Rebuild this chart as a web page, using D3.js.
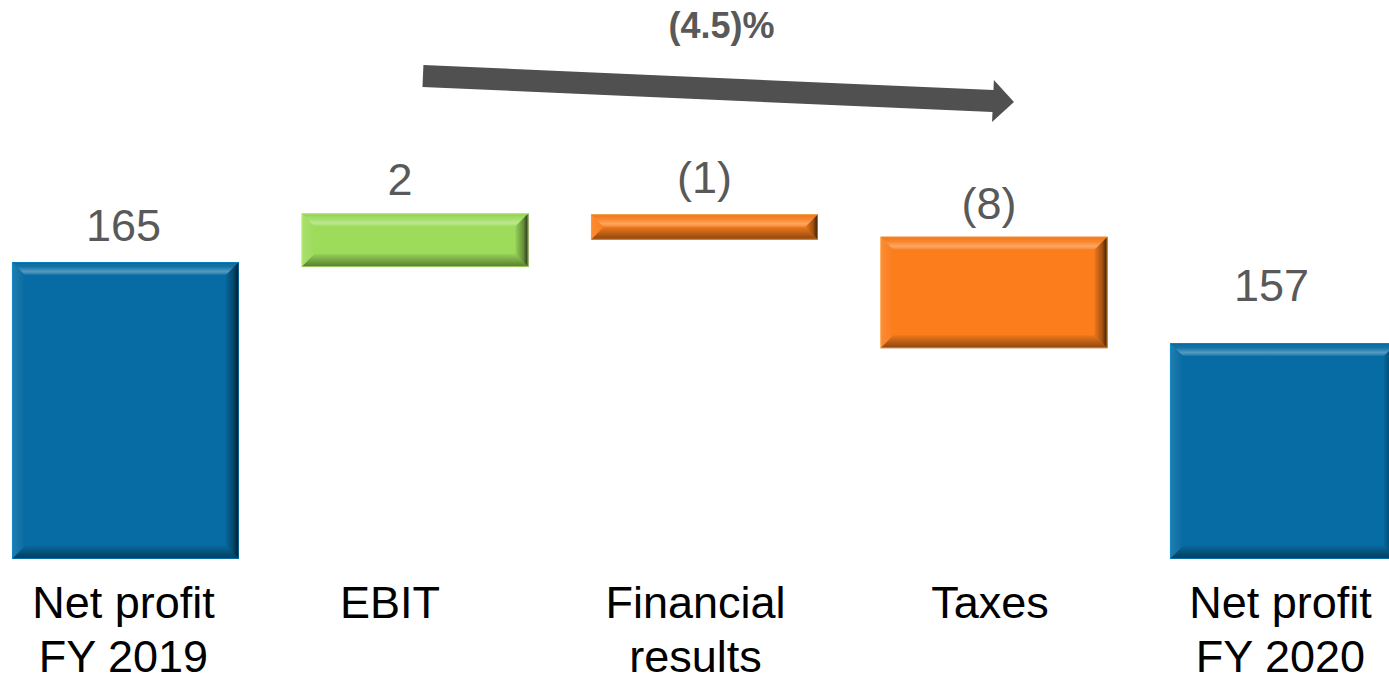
<!DOCTYPE html>
<html>
<head>
<meta charset="utf-8">
<script src="https://cdn.jsdelivr.net/npm/d3@7"></script>
<style>
  html, body { margin: 0; padding: 0; background: #ffffff; overflow: hidden; }
  svg { display: block; }
</style>
</head>
<body>
<svg id="chart" width="1389" height="682"></svg>
<script>
// ---------------- data ----------------
const categories = ["Net profit FY 2019", "EBIT", "Financial results", "Taxes", "Net profit FY 2020"];
const categoryLines = [["Net profit", "FY 2019"], ["EBIT"], ["Financial", "results"], ["Taxes"], ["Net profit", "FY 2020"]];
const valueLabels = ["165", "2", "(1)", "(8)", "157"];
// bar extents as drawn in the picture (EUR m, broken axis)
const barLow  = [135.7, 164.5, 167.2, 156.5, 135.7];
const barHigh = [165.0, 169.8, 169.7, 167.5, 157.0];
const barKind = ["total", "increase", "decrease", "decrease", "total"];
const changeLabel = "(4.5)%";

// ---------------- layout / style ----------------
const W = 1389, H = 682;
const colors = { total: "#066ca3", increase: "#9cdc5a", decrease: "#fb7d1c" };
const valueLabelDx = [-2, -15, 0, -5, -12];
const valueLabelGap = [21, 18, 21, 18, 42];
const catLabelDx = [-2, -25, -9, -4, -3];

const svg = d3.select("#chart");

const x = d3.scaleBand()
  .domain(categories)
  .range([-19.3, 1428.2])
  .paddingInner(0.216)
  .paddingOuter(0.108);

const y = d3.scaleLinear()
  .domain([135.7, 165])
  .range([559, 262]);

// gradients for bevel overlays
const defs = svg.append("defs");
function grad(id, x1, y1, x2, y2, stops) {
  const g = defs.append("linearGradient").attr("id", id)
    .attr("x1", x1).attr("y1", y1).attr("x2", x2).attr("y2", y2);
  stops.forEach(s => g.append("stop").attr("offset", s[0]).attr("stop-color", s[1]).attr("stop-opacity", s[2]));
}
grad("bevTop", 0, 0, 0, 1, [[0, "#000", 0.12], [0.35, "#fff", 0.05], [0.75, "#fff", 0.32], [1, "#fff", 0.05]]);
grad("bevBot", 0, 0, 0, 1, [[0, "#000", 0.05], [1, "#000", 0.45]]);
grad("bevRight", 0, 0, 1, 0, [[0, "#000", 0.05], [0.6, "#000", 0.35], [1, "#000", 0.8]]);
grad("bevLeft", 0, 0, 1, 0, [[0, "#fff", 0.12], [1, "#fff", 0.0]]);

const bars = svg.append("g").selectAll("g.bar")
  .data(categories.map((c, i) => ({ c, i, lo: barLow[i], hi: barHigh[i], kind: barKind[i] })))
  .join("g").attr("class", "bar");

bars.each(function(d) {
  const g = d3.select(this);
  const x0 = x(d.c), x1 = x0 + x.bandwidth();
  const y0 = y(d.hi), y1 = y(d.lo);
  const b = Math.min(13, (y1 - y0) / 2, (x1 - x0) / 2);
  const base = colors[d.kind];
  g.append("rect").attr("x", x0).attr("y", y0).attr("width", x1 - x0).attr("height", y1 - y0)
    .attr("fill", base);
  const poly = (pts, fill) => g.append("polygon").attr("points", pts.map(p => p.join(",")).join(" ")).attr("fill", fill);
  poly([[x0, y0], [x1, y0], [x1 - b, y0 + b], [x0 + b, y0 + b]], "url(#bevTop)");
  poly([[x0 + b, y1 - b], [x1 - b, y1 - b], [x1, y1], [x0, y1]], "url(#bevBot)");
  poly([[x1 - b, y0 + b], [x1, y0], [x1, y1], [x1 - b, y1 - b]], "url(#bevRight)");
  poly([[x0, y0], [x0 + b, y0 + b], [x0 + b, y1 - b], [x0, y1]], "url(#bevLeft)");
  g.append("rect").attr("x", x0 + 0.5).attr("y", y0 + 0.5).attr("width", x1 - x0 - 1).attr("height", y1 - y0 - 1)
    .attr("fill", "none").attr("stroke", d3.color(base).brighter(0.8)).attr("stroke-opacity", 0.6).attr("stroke-width", 1);
});

// value labels
svg.append("g").selectAll("text")
  .data(categories)
  .join("text")
  .attr("x", (c, i) => x(c) + x.bandwidth() / 2 + valueLabelDx[i])
  .attr("y", (c, i) => y(barHigh[i]) - valueLabelGap[i])
  .attr("text-anchor", "middle")
  .attr("font-family", "'Liberation Sans', Arial, sans-serif")
  .attr("font-size", 45)
  .attr("fill", "#595959")
  .text((c, i) => valueLabels[i]);

// category labels
const cat = svg.append("g").selectAll("text")
  .data(categories)
  .join("text")
  .attr("text-anchor", "middle")
  .attr("font-family", "'Liberation Sans', Arial, sans-serif")
  .attr("font-size", 45)
  .attr("fill", "#000");
cat.each(function(c, i) {
  const t = d3.select(this);
  const cx = x(c) + x.bandwidth() / 2 + catLabelDx[i];
  categoryLines[i].forEach((line, j) => {
    t.append("tspan").attr("x", cx).attr("y", 618 + j * 54).text(line);
  });
});

// trend arrow from EBIT to Taxes
const ax0 = x("EBIT") + x.bandwidth() / 2 + 8;
const ax1 = x("Taxes") + x.bandwidth() / 2 + 20;
const ay0 = 76, ay1 = 102;
const ang = Math.atan2(ay1 - ay0, ax1 - ax0);
const L = Math.hypot(ax1 - ax0, ay1 - ay0);
const sw = 11, hw = 21, hl = 21;
const local = [[0, -sw], [L - hl, -sw], [L - hl, -hw], [L, 0], [L - hl, hw], [L - hl, sw], [0, sw]];
const pts = local.map(([u, v]) => [ax0 + u * Math.cos(ang) - v * Math.sin(ang), ay0 + u * Math.sin(ang) + v * Math.cos(ang)]);
svg.append("polygon")
  .attr("points", pts.map(p => p.join(",")).join(" "))
  .attr("fill", "#505050");

svg.append("text")
  .attr("x", (ax0 + ax1) / 2 + 3)
  .attr("y", 38)
  .attr("text-anchor", "middle")
  .attr("font-family", "'Liberation Sans', Arial, sans-serif")
  .attr("font-weight", "bold")
  .attr("font-size", 36)
  .attr("fill", "#595959")
  .text(changeLabel);
</script>
</body>
</html>
